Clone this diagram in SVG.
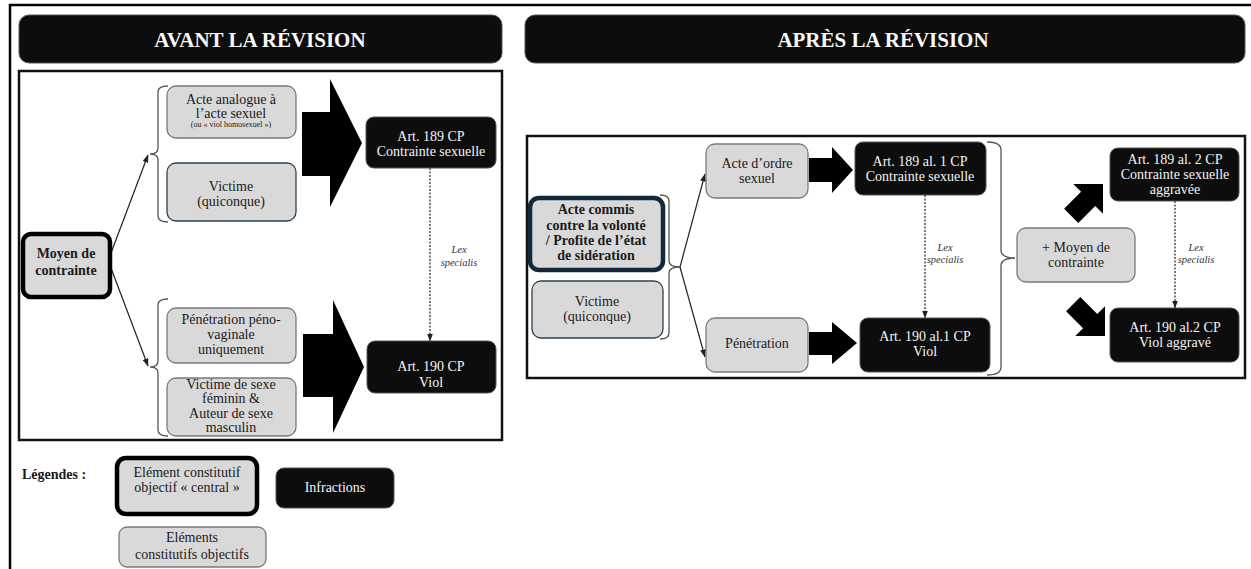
<svg xmlns="http://www.w3.org/2000/svg" width="1251" height="569" viewBox="0 0 1251 569">
<style>
text{font-family:"Liberation Serif","Times New Roman",serif;font-size:14px;text-anchor:middle;fill:#1a1a1a}
.w{fill:#f4f4f4}
.b{font-weight:bold}
.hd{font-size:21px;font-weight:bold;fill:#fafafa}
.lex{font-size:10.5px;font-style:italic;fill:#333}
.lt{fill:#d9d9d9;stroke:#7a7a7a;stroke-width:1.3}
.vic{fill:#d9d9d9;stroke:#2b4352;stroke-width:1.3}
.ctr{fill:#d9d9d9;stroke:#000;stroke-width:4.5}
.ctr2{fill:#d9d9d9;stroke:#13293a;stroke-width:4.5}
.inf{fill:#0d0d0d;stroke:#555;stroke-width:1}
.frame{fill:#fff;stroke:#111;stroke-width:2.5}
.br{fill:none;stroke:#555;stroke-width:1.3}
.ln{fill:none;stroke:#222;stroke-width:1.2}
.dash{fill:none;stroke:#333;stroke-width:1.3;stroke-dasharray:2 1.5}
.blk{fill:#000}
</style>
<defs>
<marker id="ah" markerWidth="8" markerHeight="6" refX="7.5" refY="3" orient="auto" markerUnits="userSpaceOnUse">
<path d="M0,0 L8,3 L0,6 z" fill="#222"/>
</marker>
<polygon id="diag" points="0,0 -21,-21 -21,-10 -45,-10 -45,10 -21,10 -21,21"/>
</defs>
<rect width="1251" height="569" fill="#fff"/>
<path d="M10,569 V5 H1251" fill="none" stroke="#000" stroke-width="2.5"/>

<!-- headers -->
<g id="header-avant">
<rect x="19" y="15" width="483" height="48" rx="10" class="inf"/>
<text x="260" y="47" class="hd">AVANT LA RÉVISION</text>
</g>
<g id="header-apres">
<rect x="525" y="15" width="720" height="48" rx="10" class="inf"/>
<text x="883" y="47" class="hd">APRÈS LA RÉVISION</text>
</g>

<!-- panels -->
<rect id="panel-avant" x="19" y="71" width="483" height="369" class="frame"/>
<rect id="panel-apres" x="527" y="136" width="718" height="242" class="frame"/>

<!-- connectors -->
<g id="connectors">
<path class="br" d="M168,86 Q158,86 158,92 V148 Q158,154 150,154 Q158,154 158,160 V216 Q158,222 168,222"/>
<path class="br" d="M168,299 Q158,299 158,305 V361 Q158,367 150,367 Q158,367 158,373 V430 Q158,436 168,436"/>
<line class="ln" x1="111" y1="253" x2="148" y2="155" marker-end="url(#ah)"/>
<line class="ln" x1="111" y1="268" x2="148" y2="366" marker-end="url(#ah)"/>
<polygon class="blk" points="302,112 330,112 330,79 362,143 330,207 330,176 302,176"/>
<polygon class="blk" points="303,334 333,334 333,300 364,367 333,433 333,397 303,397"/>
<line class="dash" x1="430" y1="168" x2="430" y2="341" marker-end="url(#ah)"/>

<path class="br" d="M660,195 Q669,195 669,201 V261 Q669,267 680,267 Q669,267 669,273 V333 Q669,339 660,339"/>
<line class="ln" x1="680" y1="267" x2="705" y2="174" marker-end="url(#ah)"/>
<line class="ln" x1="680" y1="267" x2="705" y2="357" marker-end="url(#ah)"/>
<polygon class="blk" points="809,158 832,158 832,147 853,170 832,193 832,182 809,182"/>
<polygon class="blk" points="809,332 832,332 832,322 857,343 832,364 832,355 809,355"/>
<line class="dash" x1="925" y1="195" x2="925" y2="318" marker-end="url(#ah)"/>
<path class="br" d="M987,142 Q1001,142 1001,150 V250 Q1001,258 1015,258 Q1001,258 1001,266 V367 Q1001,375 987,375"/>
<use href="#diag" class="blk" transform="translate(1103,184) rotate(-45)"/>
<use href="#diag" class="blk" transform="translate(1105,336) rotate(45)"/>
<line class="dash" x1="1175" y1="201" x2="1175" y2="308" marker-end="url(#ah)"/>
<text class="lex" x="459" y="253">Lex</text>
<text class="lex" x="459" y="266">specialis</text>
<text class="lex" x="945" y="251">Lex</text>
<text class="lex" x="945" y="263">specialis</text>
<text class="lex" x="1196" y="251">Lex</text>
<text class="lex" x="1196" y="263">specialis</text>
</g>

<!-- AVANT nodes -->
<g id="n-acte-analogue">
<rect x="167" y="86" width="129" height="52" rx="9" class="lt"/>
<text x="231" y="104">Acte analogue à</text>
<text x="231" y="118">l’acte sexuel</text>
<text x="231" y="127" style="font-size:8px">(ou « viol homosexuel »)</text>
</g>
<g id="n-victime-avant">
<rect x="167" y="163" width="129" height="58" rx="9" class="vic"/>
<text x="231" y="191">Victime</text>
<text x="231" y="206">(quiconque)</text>
</g>
<g id="n-moyen">
<rect x="23" y="234" width="87" height="63" rx="8" class="ctr"/>
<text x="66" y="258" class="b">Moyen de</text>
<text x="66" y="275" class="b">contrainte</text>
</g>
<g id="n-penetration-pv">
<rect x="167" y="308" width="129" height="55" rx="9" class="lt"/>
<text x="231" y="324">Pénétration péno-</text>
<text x="231" y="339">vaginale</text>
<text x="231" y="354">uniquement</text>
</g>
<g id="n-victime-sexe">
<rect x="167" y="378" width="129" height="58" rx="9" class="lt"/>
<text x="231" y="389">Victime de sexe</text>
<text x="231" y="403">féminin &amp;</text>
<text x="231" y="418">Auteur de sexe</text>
<text x="231" y="432">masculin</text>
</g>
<g id="n-art189">
<rect x="366" y="117" width="130" height="51" rx="8" class="inf"/>
<text x="431" y="141" class="w">Art. 189 CP</text>
<text x="431" y="156" class="w">Contrainte sexuelle</text>
</g>
<g id="n-art190">
<rect x="367" y="341" width="129" height="52" rx="8" class="inf"/>
<text x="431" y="371" class="w">Art. 190 CP</text>
<text x="431" y="387" class="w">Viol</text>
</g>

<!-- legend -->
<g id="legend">
<text x="22" y="479" class="b" style="text-anchor:start">Légendes :</text>
<rect x="117" y="458" width="140" height="56" rx="9" class="ctr"/>
<text x="187" y="477">Elément constitutif</text>
<text x="187" y="492">objectif « central »</text>
<rect x="276" y="468" width="118" height="40" rx="8" class="inf"/>
<text x="335" y="492" class="w">Infractions</text>
<rect x="119" y="527" width="147" height="40" rx="8" class="lt"/>
<text x="192" y="542">Eléments</text>
<text x="192" y="559">constitutifs objectifs</text>
</g>

<!-- APRES nodes -->
<g id="n-acte-commis">
<rect x="530" y="198" width="133" height="72" rx="9" class="ctr2"/>
<text x="596" y="214" class="b">Acte commis</text>
<text x="596" y="230" class="b">contre la volonté</text>
<text x="596" y="245" class="b">/ Profite de l’état</text>
<text x="596" y="260" class="b">de sidération</text>
</g>
<g id="n-victime-apres">
<rect x="532" y="281" width="131" height="57" rx="9" class="vic"/>
<text x="597" y="306">Victime</text>
<text x="597" y="321">(quiconque)</text>
</g>
<g id="n-acte-ordre">
<rect x="706" y="144" width="102" height="54" rx="9" class="lt"/>
<text x="757" y="168">Acte d’ordre</text>
<text x="757" y="183">sexuel</text>
</g>
<g id="n-penetration">
<rect x="706" y="318" width="102" height="54" rx="9" class="lt"/>
<text x="757" y="348">Pénétration</text>
</g>
<g id="n-art189-1">
<rect x="855" y="142" width="131" height="53" rx="8" class="inf"/>
<text x="920" y="166" class="w">Art. 189 al. 1 CP</text>
<text x="920" y="181" class="w">Contrainte sexuelle</text>
</g>
<g id="n-art190-1">
<rect x="860" y="318" width="130" height="54" rx="8" class="inf"/>
<text x="925" y="341" class="w">Art. 190 al.1 CP</text>
<text x="925" y="356" class="w">Viol</text>
</g>
<g id="n-moyen-apres">
<rect x="1017" y="228" width="118" height="54" rx="9" class="lt"/>
<text x="1076" y="252">+ Moyen de</text>
<text x="1076" y="267">contrainte</text>
</g>
<g id="n-art189-2">
<rect x="1110" y="148" width="129" height="53" rx="8" class="inf"/>
<text x="1175" y="164" class="w">Art. 189 al. 2 CP</text>
<text x="1175" y="179" class="w">Contrainte sexuelle</text>
<text x="1175" y="194" class="w">aggravée</text>
</g>
<g id="n-art190-2">
<rect x="1110" y="308" width="129" height="54" rx="8" class="inf"/>
<text x="1175" y="332" class="w">Art. 190 al.2 CP</text>
<text x="1175" y="347" class="w">Viol aggravé</text>
</g>
</svg>
